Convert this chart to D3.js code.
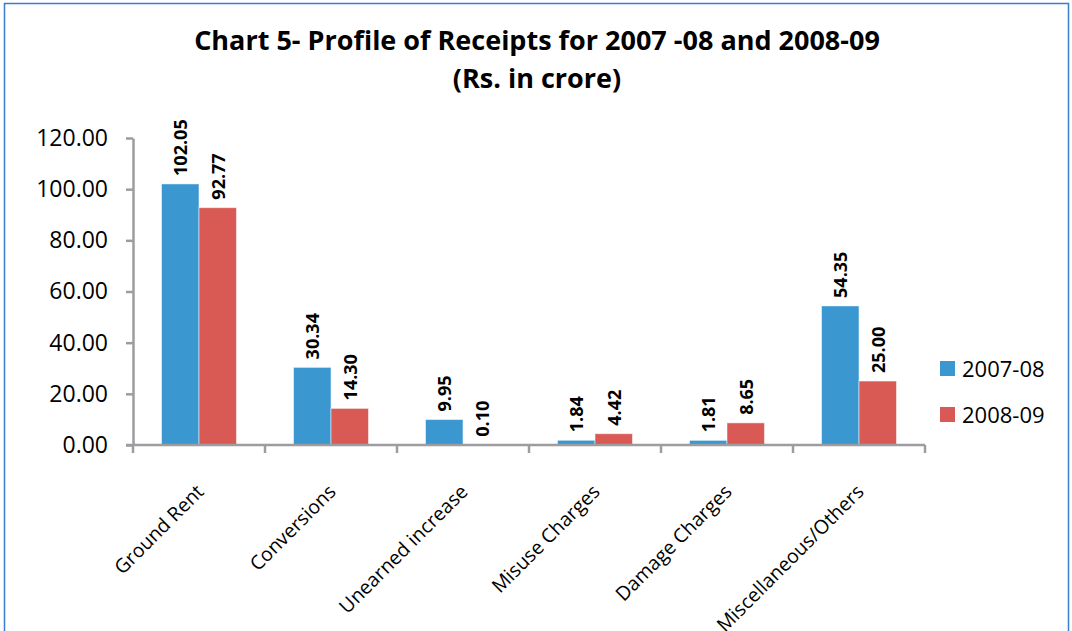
<!DOCTYPE html>
<html lang="en">
<head>
    <meta charset="UTF-8">
    <title>Chart 5</title>
    <script src="https://cdn.jsdelivr.net/npm/d3@7"></script>
    <style>
        body { margin: 0; background: #fff; }
        text { font-family: "Open Sans", sans-serif; fill: #000; }
        .title { font-weight: bold; font-size: 27px; }
        .axis path, .axis line { stroke: #9d9da1; stroke-width: 2.5px; }
        .axis text { font-size: 23px; }
        .xlab { font-size: 19.5px; }
        .val { font-weight: bold; font-size: 18px; }
    </style>
</head>
<body>
    <svg width="1072" height="631"></svg>
    <script>
        // data
        const categories = ["Ground Rent", "Conversions", "Unearned increase", "Misuse Charges", "Damage Charges", "Miscellaneous/Others"];
        const seriesNames = ["2007-08", "2008-09"];
        const values0708 = [102.05, 30.34, 9.95, 1.84, 1.81, 54.35];
        const values0809 = [92.77, 14.30, 0.10, 4.42, 8.65, 25.00];
        const yTicks = [0, 20, 40, 60, 80, 100, 120];
        const colors = ["#3a97cf", "#d95a54"];

        const svg = d3.select("svg");

        // outer frame
        svg.append("rect")
            .attr("x", 4.5).attr("y", 3.5)
            .attr("width", 1064).attr("height", 640)
            .attr("fill", "none")
            .attr("stroke", "#3a7dc9")
            .attr("stroke-width", 1.5);

        svg.append("text").attr("class", "title")
            .attr("x", 537).attr("y", 50)
            .attr("text-anchor", "middle")
            .text("Chart 5- Profile of Receipts for 2007 -08 and 2008-09");
        svg.append("text").attr("class", "title")
            .attr("x", 537).attr("y", 88)
            .attr("text-anchor", "middle")
            .text("(Rs. in crore)");

        const plotL = 133, plotR = 925, plotT = 138, plotB = 445;

        const x = d3.scaleBand().domain(categories).range([plotL, plotR]).padding(0);
        const inner = d3.scaleBand().domain(seriesNames).range([0, x.bandwidth()])
            .paddingInner(0).paddingOuter(0.76);
        const y = d3.scaleLinear().domain([0, 120]).range([plotB, plotT]);

        const rows = categories.map((c, i) => ({ cat: c, vals: [values0708[i], values0809[i]] }));

        const groups = svg.append("g").selectAll("g")
            .data(rows).join("g")
            .attr("transform", d => `translate(${x(d.cat)},0)`);

        groups.selectAll("rect")
            .data(d => d.vals.map((v, j) => ({ v, s: seriesNames[j], j })))
            .join("rect")
            .attr("x", d => inner(d.s))
            .attr("y", d => y(d.v))
            .attr("width", inner.bandwidth())
            .attr("height", d => plotB - y(d.v))
            .attr("fill", d => colors[d.j])
            .attr("stroke", "#fff")
            .attr("stroke-opacity", 0.5)
            .attr("stroke-width", 1);

        groups.selectAll("text.val")
            .data(d => d.vals.map((v, j) => ({ v, s: seriesNames[j], j })))
            .join("text").attr("class", "val")
            .attr("transform", d => `translate(${inner(d.s) + inner.bandwidth() / 2 + 7},${y(d.v) - 8}) rotate(-90)`)
            .text(d => d3.format(".2f")(d.v));

        // y axis
        svg.append("g").attr("class", "axis")
            .attr("transform", `translate(${plotL},0)`)
            .call(d3.axisLeft(y).tickValues(yTicks).tickFormat(d3.format(".2f")).tickSizeInner(7).tickSizeOuter(0).tickPadding(18));

        // x axis: ticks at category boundaries
        const xAxis = svg.append("g").attr("class", "axis")
            .attr("transform", `translate(0,${plotB})`);
        xAxis.append("line")
            .attr("x1", plotL - 7).attr("x2", plotR).attr("y1", 0).attr("y2", 0);
        xAxis.selectAll("line.tk")
            .data(categories.concat(["end"]))
            .join("line").attr("class", "tk")
            .attr("x1", (d, i) => i < categories.length ? x(d) : plotR)
            .attr("x2", (d, i) => i < categories.length ? x(d) : plotR)
            .attr("y1", 0).attr("y2", 8);

        svg.append("g").selectAll("text")
            .data(categories).join("text").attr("class", "xlab")
            .attr("text-anchor", "end")
            .attr("transform", d => `translate(${x(d) + x.bandwidth() / 2 + 6},${plotB + 48}) rotate(-45)`)
            .text(d => d);

        // legend
        const legend = svg.append("g").attr("transform", "translate(940,361)");
        const li = legend.selectAll("g").data(seriesNames).join("g")
            .attr("transform", (d, i) => `translate(0,${i * 46})`);
        li.append("rect").attr("width", 15).attr("height", 15)
            .attr("fill", (d, i) => colors[i]);
        li.append("text").attr("x", 22).attr("y", 16)
            .style("font-size", "22px")
            .text(d => d);
    </script>
</body>
</html>
